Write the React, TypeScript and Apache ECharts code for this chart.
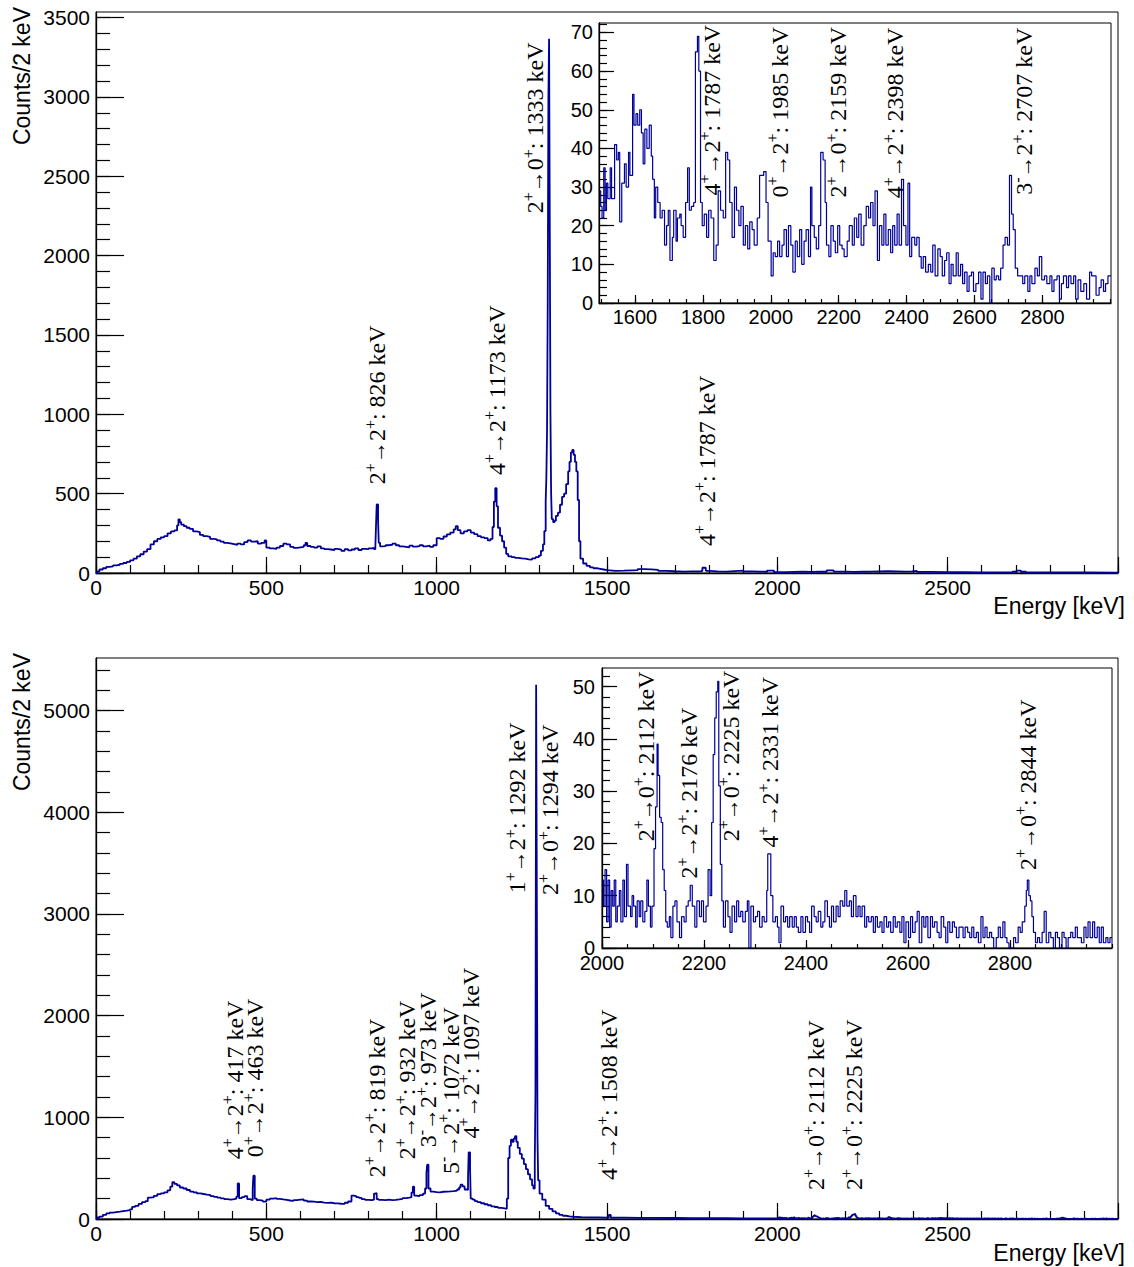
import React, { useEffect, useRef } from 'react';
import * as echarts from 'echarts';

const W = 1134;
const H = 1267;

// ---------- Top panel: main spectrum, [energy keV (bin start), counts] ----------
const topMain: [number, number][] = [
  [0,0],[4,10],[10,22],[20,30],[30,38],[40,42],[50,48],[60,52],[70,58],[80,63],[90,70],[100,80],[110,90],[120,105],[130,118],[140,135],[150,150],[160,180],[170,200],[180,215],[190,225],[200,232],[210,250],[220,262],[230,268],[238,300],[242,338],[246,320],[250,305],[258,295],[266,285],[275,278],[285,262],[295,258],[305,240],[315,232],[325,228],[335,215],[345,212],[355,205],[365,198],[375,190],[385,186],[395,182],[405,178],[415,185],[425,180],[435,195],[445,205],[455,198],[465,200],[475,185],[485,190],[495,205],[500,160],[510,155],[520,152],[530,160],[540,170],[550,185],[560,180],[570,165],[580,158],[590,162],[600,165],[610,175],[615,190],[620,170],[630,165],[640,160],[650,168],[660,155],[670,150],[680,148],[690,145],[700,152],[710,148],[720,140],[730,150],[740,142],[750,148],[760,155],[770,145],[780,152],[790,150],[800,155],[810,158],[816,150],[820,165],[822,300],[824,432],[828,330],[830,190],[834,168],[840,170],[850,175],[860,178],[870,185],[880,175],[890,168],[900,165],[910,162],[920,172],[930,166],[940,170],[950,175],[960,168],[970,172],[980,165],[990,175],[1000,220],[1010,215],[1020,230],[1030,243],[1040,255],[1050,275],[1056,295],[1062,270],[1070,250],[1080,262],[1090,270],[1100,255],[1110,245],[1120,232],[1130,225],[1140,220],[1150,205],[1158,215],[1164,290],[1168,450],[1172,534],[1176,420],[1180,285],[1186,235],[1192,200],[1198,160],[1204,120],[1210,105],[1220,100],[1230,95],[1240,92],[1250,90],[1260,86],[1270,84],[1280,92],[1290,100],[1300,110],[1306,140],[1312,180],[1316,264],[1320,454],[1322,600],[1324,900],[1326,1700],[1328,3000],[1330,3367],[1332,2200],[1334,1000],[1336,500],[1338,340],[1342,320],[1346,330],[1350,360],[1356,380],[1362,430],[1368,480],[1374,500],[1380,560],[1386,640],[1390,700],[1394,760],[1398,775],[1402,745],[1406,700],[1410,640],[1414,460],[1418,200],[1422,90],[1430,60],[1440,45],[1450,35],[1460,30],[1470,26],[1480,22],[1490,18]
];
const topMainTail: [number, number][] = [
  [1500,14],[1525,15],[1550,17],[1575,18],[1590,25],[1610,23],[1630,20],[1650,14],[1675,11],[1700,9],[1725,10],[1750,11],[1775,13],[1780,33],[1790,14],[1800,10],[1825,9],[1850,12],[1875,15],[1900,10],[1925,9],[1950,8],[1970,15],[1990,6],[2025,7],[2050,8],[2075,7],[2100,8],[2125,8],[2145,17],[2165,9],[2200,7],[2225,8],[2250,9],[2275,10],[2300,11],[2325,10],[2350,9],[2375,10],[2395,13],[2410,7],[2450,5],[2500,5],[2550,4],[2600,3],[2650,3],[2690,8],[2702,15],[2715,8],[2730,3],[2800,3],[2900,2]
];
// ---------- Top panel: inset spectrum ----------
const topInset: [number, number][] = [
  [1496,29],[1499,25],[1503,22],[1508,35],[1512,24],[1516,31],[1520,27],[1527,35],[1531,27],[1540,41],[1546,37],[1551,39],[1555,21],[1561,31],[1569,36],[1574,30],[1581,39],[1585,33],[1593,54],[1597,46],[1603,49],[1608,46],[1614,50],[1619,44],[1624,36],[1629,45],[1635,40],[1642,46],[1648,38],[1652,32],[1657,22],[1661,30],[1667,26],[1674,22],[1680,24],[1687,15],[1693,20],[1698,24],[1703,11],[1710,17],[1714,24],[1721,16],[1725,22],[1732,23],[1736,20],[1742,17],[1749,26],[1755,35],[1760,24],[1766,25],[1773,26],[1778,65],[1784,69],[1788,60],[1793,26],[1798,20],[1804,23],[1811,17],[1817,24],[1824,22],[1832,11],[1839,15],[1845,29],[1852,24],[1860,22],[1867,39],[1873,37],[1879,26],[1886,17],[1893,30],[1899,24],[1906,20],[1912,25],[1919,15],[1925,20],[1932,14],[1938,21],[1945,19],[1951,15],[1960,22],[1967,33],[1973,33],[1979,34],[1986,26],[1992,16],[2001,7],[2007,13],[2013,12],[2020,16],[2026,12],[2033,15],[2039,19],[2046,12],[2052,20],[2059,15],[2065,8],[2072,16],[2078,12],[2085,19],[2091,10],[2098,16],[2104,19],[2111,12],[2117,30],[2121,20],[2128,17],[2134,14],[2141,20],[2147,39],[2154,37],[2160,26],[2164,15],[2171,12],[2177,20],[2184,16],[2190,13],[2197,20],[2203,15],[2210,14],[2216,12],[2225,16],[2231,20],[2240,15],[2246,22],[2253,17],[2259,23],[2266,15],[2274,20],[2281,25],[2288,22],[2294,26],[2301,20],[2307,29],[2314,11],[2320,20],[2327,15],[2333,23],[2339,15],[2346,19],[2353,13],[2359,20],[2365,15],[2372,23],[2378,15],[2385,32],[2391,20],[2398,15],[2404,31],[2409,12],[2415,17],[2424,15],[2430,17],[2437,12],[2443,9],[2449,12],[2456,8],[2464,10],[2471,8],[2477,15],[2484,7],[2492,14],[2499,12],[2505,7],[2512,11],[2518,13],[2525,5],[2531,10],[2537,7],[2546,13],[2552,7],[2559,10],[2565,5],[2571,8],[2578,3],[2584,7],[2591,8],[2597,3],[2604,5],[2612,8],[2619,1],[2625,8],[2632,5],[2638,7],[2645,0],[2651,9],[2658,6],[2664,7],[2671,6],[2677,9],[2684,15],[2690,17],[2697,15],[2703,33],[2709,23],[2714,19],[2720,9],[2727,7],[2733,7],[2742,5],[2748,7],[2757,3],[2763,7],[2769,5],[2778,9],[2785,7],[2791,12],[2798,6],[2806,7],[2813,5],[2822,7],[2828,3],[2834,6],[2843,7],[2850,1],[2856,5],[2862,7],[2871,4],[2877,7],[2884,5],[2892,7],[2898,1],[2905,6],[2913,3],[2922,5],[2930,1],[2939,8],[2945,7],[2952,7],[2958,2],[2967,4],[2973,6],[2980,3],[2986,5],[2993,7]
];

// ---------- Bottom panel: main spectrum ----------
const bottomMain: [number, number][] = [
  [0,0],[4,15],[10,23],[20,40],[30,55],[40,62],[50,68],[60,72],[70,78],[80,82],[90,88],[100,95],[106,120],[115,130],[125,148],[135,165],[145,175],[152,210],[160,215],[170,228],[180,245],[190,252],[200,262],[210,282],[218,318],[224,362],[230,345],[238,330],[246,310],[256,300],[266,285],[276,270],[286,262],[296,252],[306,246],[316,240],[326,235],[336,225],[346,218],[356,210],[366,203],[376,196],[386,190],[396,195],[406,200],[412,220],[416,350],[420,205],[428,215],[436,225],[444,195],[452,190],[456,185],[460,300],[462,426],[466,200],[472,185],[480,180],[490,170],[500,190],[510,200],[520,205],[530,198],[540,192],[550,188],[560,182],[570,178],[580,185],[590,190],[600,192],[610,180],[620,172],[630,170],[640,166],[650,168],[660,162],[670,158],[680,160],[690,155],[700,153],[710,150],[720,148],[730,160],[740,172],[750,230],[756,225],[764,215],[772,207],[780,195],[790,188],[800,185],[810,190],[816,250],[820,256],[824,195],[830,188],[840,186],[850,190],[860,185],[870,188],[880,192],[890,198],[900,205],[910,210],[920,215],[926,260],[930,318],[934,230],[940,225],[950,235],[960,250],[966,300],[970,450],[972,534],[976,300],[982,270],[990,265],[1000,262],[1010,268],[1020,270],[1030,272],[1040,275],[1050,280],[1060,290],[1066,310],[1070,338],[1076,320],[1082,290],[1088,285],[1092,400],[1094,656],[1098,500],[1100,200],[1106,190],[1112,175],[1120,165],[1130,155],[1140,145],[1150,135],[1160,125],[1170,118],[1180,110],[1190,105],[1200,100],[1206,200],[1210,600],[1214,720],[1218,780],[1222,760],[1226,790],[1230,814],[1234,760],[1238,700],[1244,640],[1250,594],[1256,540],[1262,490],[1268,440],[1274,390],[1280,330],[1284,300],[1288,560],[1290,1250],[1292,5255],[1294,3150],[1296,800],[1298,380],[1302,250],[1310,190],[1320,130],[1330,100],[1340,75],[1350,55],[1360,40],[1370,32],[1380,26],[1390,22]
];
const bottomTail: [number, number][] = [
  [1400,18],[1425,16],[1450,15],[1475,14],[1500,13],[1505,40],[1511,13],[1550,12],[1600,11],[1650,10],[1700,9],[1750,8],[1800,8],[1850,7],[1900,6],[1950,6]
];
// ---------- Bottom panel: inset spectrum ----------
const bottomInset: [number, number][] = [
  [2000,13],[2003,8],[2006,15],[2009,5],[2012,13],[2015,4],[2018,11],[2021,8],[2024,13],[2027,5],[2030,8],[2034,11],[2037,5],[2041,13],[2044,6],[2048,16],[2051,8],[2056,6],[2059,10],[2062,8],[2066,4],[2069,9],[2073,6],[2076,9],[2080,5],[2084,7],[2088,13],[2091,8],[2095,4],[2098,8],[2102,19],[2105,27],[2108,39],[2110,33],[2113,25],[2116,24],[2119,15],[2122,11],[2125,5],[2128,4],[2132,6],[2135,2],[2139,8],[2143,9],[2147,5],[2152,2],[2156,6],[2161,5],[2165,8],[2169,9],[2173,12],[2177,8],[2182,4],[2186,9],[2191,6],[2195,9],[2199,5],[2204,8],[2208,15],[2212,10],[2215,24],[2218,37],[2221,44],[2224,49],[2227,51],[2229,31],[2232,16],[2235,9],[2238,4],[2242,9],[2247,6],[2251,3],[2255,8],[2260,5],[2264,9],[2268,6],[2272,7],[2276,5],[2281,7],[2285,9],[2288,0],[2292,8],[2297,5],[2301,6],[2305,7],[2309,4],[2314,6],[2318,5],[2323,11],[2325,18],[2328,18],[2331,10],[2335,5],[2340,6],[2344,4],[2347,1],[2351,8],[2356,5],[2360,6],[2364,4],[2368,6],[2373,4],[2377,6],[2381,4],[2385,3],[2390,6],[2394,3],[2399,6],[2403,5],[2407,3],[2411,8],[2416,6],[2420,5],[2424,7],[2429,4],[2433,5],[2437,9],[2442,6],[2446,4],[2450,8],[2454,5],[2459,8],[2463,6],[2467,9],[2472,8],[2476,11],[2480,8],[2485,9],[2489,6],[2493,10],[2498,6],[2502,8],[2506,6],[2510,8],[2515,4],[2519,6],[2523,5],[2528,6],[2532,3],[2536,6],[2540,4],[2545,5],[2549,3],[2553,6],[2558,4],[2562,5],[2566,3],[2571,6],[2575,4],[2579,5],[2584,3],[2588,6],[2592,1],[2596,5],[2601,2],[2605,6],[2609,3],[2614,5],[2618,7],[2622,1],[2627,6],[2631,4],[2635,6],[2639,2],[2644,6],[2648,4],[2652,5],[2657,3],[2661,2],[2665,6],[2670,4],[2674,1],[2678,5],[2682,3],[2687,5],[2691,4],[2695,2],[2700,4],[2704,4],[2708,2],[2712,4],[2717,3],[2721,2],[2725,4],[2729,2],[2734,3],[2738,1],[2743,6],[2747,2],[2751,4],[2755,2],[2760,3],[2764,2],[2768,0],[2773,2],[2777,4],[2781,2],[2786,5],[2790,2],[2794,1],[2798,0],[2803,0],[2807,2],[2811,1],[2816,4],[2820,3],[2824,5],[2829,8],[2832,11],[2834,13],[2837,10],[2840,9],[2843,6],[2846,3],[2850,1],[2854,2],[2858,1],[2863,3],[2867,7],[2871,1],[2876,3],[2880,2],[2885,0],[2889,3],[2893,2],[2897,0],[2902,3],[2906,2],[2910,0],[2914,2],[2919,3],[2923,2],[2928,4],[2932,2],[2936,2],[2940,1],[2945,4],[2949,2],[2953,5],[2957,2],[2962,5],[2966,2],[2971,4],[2975,1],[2979,4],[2983,1],[2988,2],[2992,1],[2996,2]
];

// ---------- Tick labels ----------
const mainXLabels = [0, 500, 1000, 1500, 2000, 2500];
const mainXMajors = [0, 500, 1000, 1500, 2000, 2500, 3000];
const topYLabels = [0, 500, 1000, 1500, 2000, 2500, 3000, 3500];
const bottomYLabels = [0, 1000, 2000, 3000, 4000, 5000];
const topInsetXLabels = [1600, 1800, 2000, 2200, 2400, 2600, 2800];
const topInsetYLabels = [0, 10, 20, 30, 40, 50, 60, 70];
const bottomInsetXLabels = [2000, 2200, 2400, 2600, 2800];
const bottomInsetYLabels = [0, 10, 20, 30, 40, 50];

// ---------- Peak annotations: [energy, counts at text start, label] ----------
const topMainNotes: [number, number, string][] = [
  [825, 560, '2^+→2^+: 826 keV'],
  [1177, 617, '4^+→2^+: 1173 keV'],
  [1289, 2267, '2^+→0^+: 1333 keV'],
  [1793, 170, '4^+→2^+: 1787 keV'],
];
const topInsetNotes: [number, number, string][] = [
  [1826, 27.8, '4^+→2^+: 1787 keV'],
  [2027, 27.3, '0^+→2^+: 1985 keV'],
  [2199, 27.3, '2^+→0^+: 2159 keV'],
  [2366, 27.1, '4^+→2^+: 2398 keV'],
  [2747, 28, '3^-→2^+: 2707 keV'],
];
const bottomMainNotes: [number, number, string][] = [
  [408, 587, '4^+→2^+: 417 keV'],
  [467, 607, '0^+→2^+: 463 keV'],
  [824, 410, '2^+→2^+: 819 keV'],
  [914, 587, '2^+→2^+: 932 keV'],
  [975, 705, '3^-→2^+: 973 keV'],
  [1041, 442, '5^-→2^+: 1072 keV'],
  [1100, 793, '4^+→2^+: 1097 keV'],
  [1237, 3205, '1^+→2^+: 1292 keV'],
  [1333, 3186, '2^+→0^+: 1294 keV'],
  [1506, 383, '4^+→2^+: 1508 keV'],
  [2113, 285, '2^+→0^+: 2112 keV'],
  [2225, 285, '2^+→0^+: 2225 keV'],
];
const bottomInsetNotes: [number, number, string][] = [
  [2086, 20.4, '2^+→0^+: 2112 keV'],
  [2171, 13.3, '2^+→2^+: 2176 keV'],
  [2252, 20.4, '2^+→0^+: 2225 keV'],
  [2330, 19.2, '4^+→2^+: 2331 keV'],
  [2835, 14.9, '2^+→0^+: 2844 keV'],
];

const SANS = '"Liberation Sans", Arial, Helvetica, sans-serif';
const SERIF = '"Liberation Serif", "Times New Roman", Times, serif';
const LINE = '#000099';

function range(a: number, b: number, step: number): number[] {
  const out: number[] = [];
  for (let v = a; v <= b + 1e-9; v += step) out.push(v);
  return out;
}

function withEnd(d: [number, number][], end: number): [number, number][] {
  return d.concat([[end, d[d.length - 1][1]]]);
}

function axes(
  kind: 'x' | 'y', gridIndex: number, min: number, max: number,
  majors: number[], minors: number[], labels: number[],
  majorLen: number, minorLen: number, fontSize: number, margin: number
) {
  const base: any = {
    type: 'value', gridIndex, min, max,
    position: kind === 'x' ? 'bottom' : 'left',
    splitLine: { show: false },
  };
  const major = {
    ...base,
    axisLine: { show: true, onZero: false, lineStyle: { color: '#000', width: 1.3 } },
    axisTick: { show: true, inside: true, length: majorLen, customValues: majors, lineStyle: { color: '#000', width: 1.2 } },
    axisLabel: { show: true, customValues: labels, color: '#000', fontSize, fontFamily: SANS, margin, formatter: (v: number) => String(v) },
  };
  const minor = {
    ...base,
    axisLine: { show: false, onZero: false },
    axisTick: { show: true, inside: true, length: minorLen, customValues: minors, lineStyle: { color: '#000', width: 1.2 } },
    axisLabel: { show: false },
  };
  return [major, minor];
}

function richText(s: string): string {
  const parts = s.split(/\^([+\-])/);
  let out = '';
  parts.forEach((p, i) => {
    if (!p) return;
    if (i % 2 === 1) { out += `{s|${p}}`; return; }
    const bits = p.split('→');
    bits.forEach((b, j) => {
      if (j > 0) out += '{a|→}';
      if (b) out += `{n|${b}}`;
    });
  });
  return out;
}

const grids = [
  { left: 96, top: 12, width: 1022, height: 561 },
  { left: 599, top: 23, width: 512, height: 280 },
  { left: 96, top: 658, width: 1022, height: 561 },
  { left: 602, top: 668, width: 510, height: 280 },
];

function buildOption(): any {
  const xAxis = [
    ...axes('x', 0, 0, 3000, mainXMajors, range(0, 3000, 100), mainXLabels, 16, 8, 21, 4),
    ...axes('x', 1, 1494, 3002, topInsetXLabels, range(1500, 3000, 50), topInsetXLabels, 8, 4, 20, 4),
    ...axes('x', 2, 0, 3000, mainXMajors, range(0, 3000, 100), mainXLabels, 16, 8, 21, 4),
    ...axes('x', 3, 2000, 3000, bottomInsetXLabels, range(2000, 3000, 50), bottomInsetXLabels, 8, 4, 20, 5),
  ];
  const yAxis = [
    ...axes('y', 0, 0, 3535, topYLabels, range(0, 3500, 100), topYLabels, 28, 14, 21, 6),
    ...axes('y', 1, 0, 72.45, topInsetYLabels, range(0, 72, 2), topInsetYLabels, 15, 8, 20, 6),
    ...axes('y', 2, 0, 5518, bottomYLabels, range(0, 5400, 200), bottomYLabels, 28, 14, 21, 6),
    ...axes('y', 3, 0, 53.55, bottomInsetYLabels, range(0, 52, 2), bottomInsetYLabels, 15, 8, 20, 7),
  ];
  const mk = (data: [number, number][], axisIdx: number, width: number) => ({
    type: 'line', step: 'end', data, xAxisIndex: axisIdx, yAxisIndex: axisIdx,
    showSymbol: false, symbol: 'none', clip: true, silent: true,
    lineStyle: { color: LINE, width }, itemStyle: { color: LINE },
  });
  return {
    animation: false,
    backgroundColor: '#fff',
    grid: grids.map((g, i) => ({
      ...g, show: true, borderColor: '#000', borderWidth: 1,
      backgroundColor: i % 2 === 1 ? '#fff' : 'transparent', containLabel: false,
    })),
    xAxis, yAxis,
    series: [
      mk(withEnd(topMain.concat(topMainTail), 3000), 0, 1.8),
      mk(withEnd(topInset, 3002), 2, 1.2),
      mk(withEnd(bottomMain.concat(bottomTail, bottomInset), 3000), 4, 1.8),
      mk(withEnd(bottomInset, 3000), 6, 1.2),
    ],
  };
}

export default function App() {
  const ref = useRef<HTMLDivElement>(null);
  useEffect(() => {
    if (!ref.current) return;
    const chart = echarts.init(ref.current, null, { renderer: 'svg', width: W, height: H });
    chart.setOption(buildOption());

    const rich = {
      n: { fontSize: 24, fontFamily: SERIF, lineHeight: 30, fill: '#000' },
      a: { fontSize: 22, fontFamily: SANS, lineHeight: 30, fill: '#000' },
      s: { fontSize: 16, fontFamily: SERIF, lineHeight: 16, verticalAlign: 'top', fill: '#000' },
    };
    const graphic: any[] = [];
    const notes: [[number, number, string][], number][] = [
      [topMainNotes, 0], [topInsetNotes, 1], [bottomMainNotes, 2], [bottomInsetNotes, 3],
    ];
    notes.forEach(([list, si]) => {
      list.forEach(([e, c, label]) => {
        const p = chart.convertToPixel({ seriesIndex: si }, [e, c]) as number[];
        graphic.push({
          type: 'text', x: p[0], y: p[1], rotation: Math.PI / 2, z: 100,
          style: { text: richText(label), rich, align: 'left', verticalAlign: 'middle', fill: '#000' },
        });
      });
    });
    // axis titles
    const titles = [
      { x: 22, y: 7, text: 'Counts/2 keV', rot: true },
      { x: 22, y: 653, text: 'Counts/2 keV', rot: true },
      { x: 1125, y: 606, text: 'Energy [keV]', rot: false },
      { x: 1125, y: 1253, text: 'Energy [keV]', rot: false },
    ];
    titles.forEach((t) => {
      graphic.push({
        type: 'text', x: t.x, y: t.y, rotation: t.rot ? Math.PI / 2 : 0, z: 100,
        style: { text: t.text, fontSize: 23, fontFamily: SANS, fill: '#000', align: 'right', verticalAlign: 'middle' },
      });
    });
    chart.setOption({ graphic });
    return () => chart.dispose();
  }, []);
  return <div ref={ref} style={{ position: 'absolute', left: 0, top: 0, width: W, height: H }} />;
}
